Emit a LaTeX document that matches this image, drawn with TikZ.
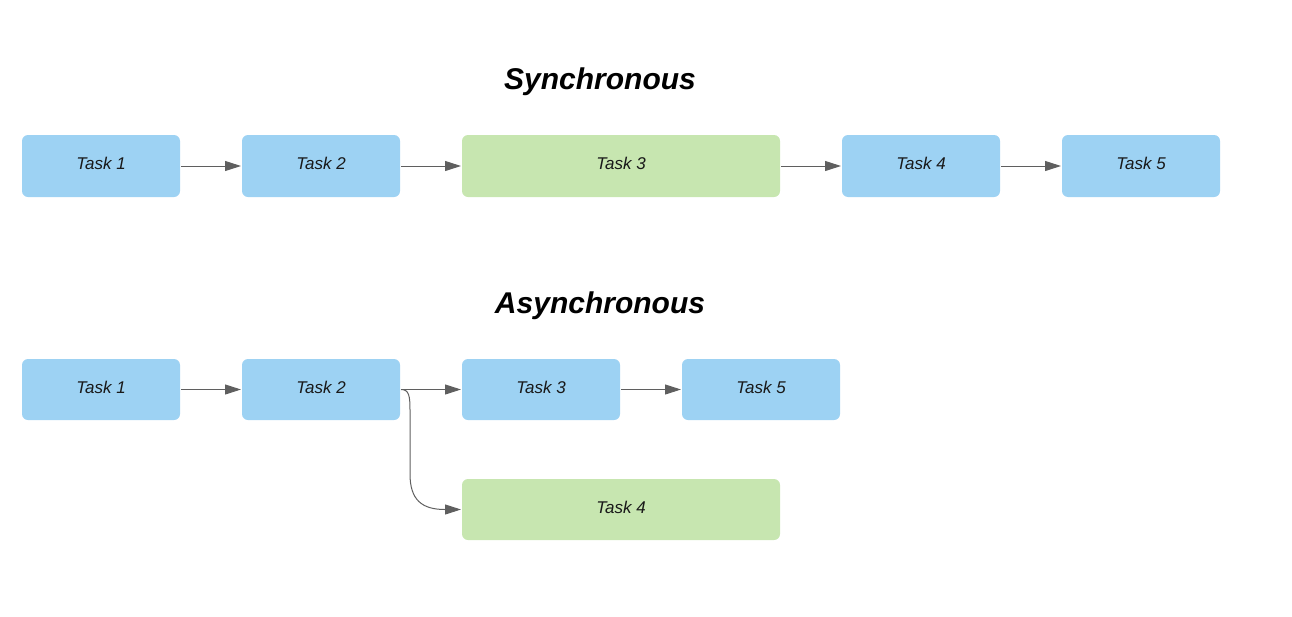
\documentclass[tikz,border=0pt]{standalone}
\usepackage{fontspec}
\setmainfont{Liberation Sans}
\usetikzlibrary{arrows.meta}
\definecolor{taskblue}{RGB}{157,210,243}
\definecolor{taskgreen}{RGB}{199,230,176}
\definecolor{linegray}{RGB}{95,95,95}
\definecolor{textdark}{RGB}{25,25,25}
\tikzset{
  task/.style={rounded corners=6pt, inner sep=0pt, outer sep=0pt, minimum height=62pt,
    text height=12.5pt, text depth=5.3pt,
    text=textdark, font=\fontsize{17}{20}\selectfont\itshape},
  bluebox/.style={task, fill=taskblue, minimum width=158pt},
  greenbox/.style={task, fill=taskgreen, minimum width=318pt},
  title/.style={font=\fontsize{30}{34}\selectfont\bfseries\itshape, text=black, inner sep=0pt},
  conn/.style={draw=linegray, line width=1pt, -{Triangle[length=16pt,width=10pt]}, shorten >=1pt, shorten <=1pt},
}
\begin{document}
\begin{tikzpicture}[x=1pt,y=-1pt]
\useasboundingbox (0,0) rectangle (1292,616);
% Synchronous
\node[title] (tsync) at (600,82) {Synchronous};
\node[bluebox] (s1) at (101,166) {Task 1};
\node[bluebox] (s2) at (321,166) {Task 2};
\node[greenbox] (s3) at (621,166) {Task 3};
\node[bluebox] (s4) at (921,166) {Task 4};
\node[bluebox] (s5) at (1141,166) {Task 5};
\draw[conn] (s1) -- (s2);
\draw[conn] (s2) -- (s3);
\draw[conn] (s3) -- (s4);
\draw[conn] (s4) -- (s5);
% Asynchronous
\node[title] (tasync) at (600,306) {Asynchronous};
\node[bluebox, minimum height=61pt] (a1) at (101,389.5) {Task 1};
\node[bluebox, minimum height=61pt] (a2) at (321,389.5) {Task 2};
\node[bluebox, minimum height=61pt] (a3) at (541,389.5) {Task 3};
\node[bluebox, minimum height=61pt] (a5) at (761,389.5) {Task 5};
\node[greenbox, minimum height=61pt] (a4) at (621,509.5) {Task 4};
\draw[conn] (a1.east) -- (a2.west);
\draw[conn] (a2.east) -- (a3.west);
\draw[conn] (a3.east) -- (a5.west);
\draw[conn] (a2.east) .. controls ++(9,0) and (410,396) .. (410,410)
  -- (410,474) .. controls (410,500) and (422,509.5) .. (445,509.5) -- (a4.west);
\end{tikzpicture}
\end{document}
